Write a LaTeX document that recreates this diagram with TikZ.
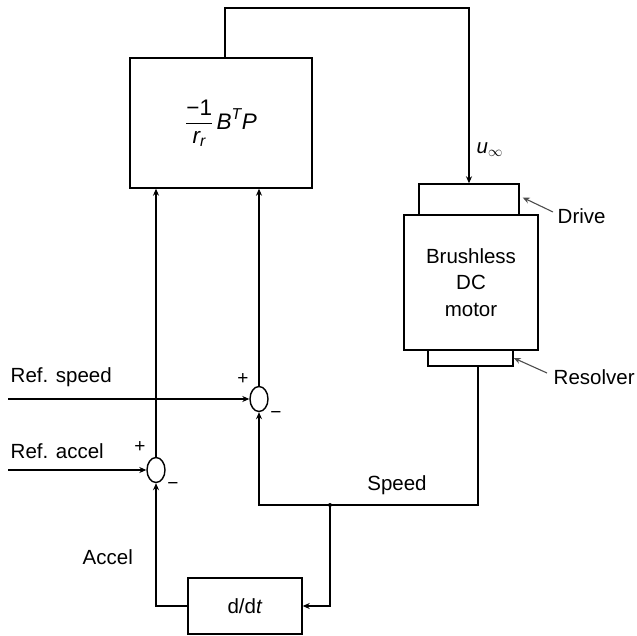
\documentclass[tikz,border=0pt]{standalone}
\usepackage{amsmath}
\usepackage{fontspec}
\setmainfont{Liberation Sans}
\usetikzlibrary{arrows.meta,shapes.geometric}
\begin{document}
\begin{tikzpicture}[x=1pt,y=-1pt,
  line width=1.4pt,
  blk/.style={draw,rectangle,inner sep=0pt,line width=1.4pt},
  sumj/.style={draw,ellipse,minimum width=18pt,minimum height=25pt,inner sep=0pt,line width=1.4pt},
  lbl/.style={font=\fontsize{20.5}{26}\selectfont,inner sep=0pt},
  sgn/.style={font=\fontsize{19}{20}\selectfont,inner sep=0pt},
  arr/.style={-{Stealth[length=7pt,width=6pt]}},
  thinarr/.style={-{Stealth[length=7pt,width=6pt]},line width=1.1pt,gray!60!black}]
\useasboundingbox (0,0) rectangle (637,636);
% blocks
\node[blk,minimum width=182pt,minimum height=130pt] (top) at (221,123)
  {\fontsize{22.5}{26}\selectfont$\dfrac{\text{−1}}{\textit{r}_{\textit{r}}}\,\textit{B}^{\textit{T}}\textit{P}$};
\node[blk,minimum width=100pt,minimum height=31pt] (drive) at (469,199.5) {};
\node[blk,minimum width=134pt,minimum height=135pt,align=center,font=\fontsize{20.5}{26.5}\selectfont] (motor) at (471,282.5) {Brushless\\DC\\motor};
\node[blk,minimum width=85pt,minimum height=16pt] (resolver) at (470.5,358) {};
\node[blk,minimum width=114pt,minimum height=56pt,font=\fontsize{20.5}{24}\selectfont] (ddt) at (245,606) {d/d\textit{t}};
% summing junctions
\node[sumj] (sum1) at (259,399) {};
\node[sumj] (sum2) at (156,470) {};
% coordinates
\coordinate (t1) at (225,8);
\coordinate (t2) at (469,8);
\coordinate (rs) at (8,399);
\coordinate (ra) at (8,470);
\coordinate (sp) at (478,505);
\coordinate (j) at (330,505);
\coordinate (dtail) at (553,212);
\coordinate (rtail) at (547,373);
% labels
\node[lbl,anchor=west] (u) at (476,150) {\textit{u}$_{\infty}$};
\node[lbl,anchor=west] (drivelbl) at (557,216) {Drive};
\node[lbl,anchor=west] (reslbl) at (553,377) {Resolver};
\node[lbl,anchor=west] (rslbl) at (10,377) {Ref. speed};
\node[lbl,anchor=west] (ralbl) at (10,451) {Ref. accel};
\node[lbl,anchor=west] (acclbl) at (82,557) {Accel};
\node[lbl] (spdlbl) at (397,485) {Speed};
\node[sgn] (p1) at (243,379) {+};
\node[sgn] (m1) at (276,415) {−};
\node[sgn] (p2) at (140,447) {+};
\node[sgn] (m2) at (173,486) {−};
% connectors
\draw[arr] (top.north -| t1) -- (t1) -- (t2) -- (drive.north);
\draw[arr] (rs) -- (sum1.west);
\draw[arr] (ra) -- (sum2.west);
\draw[arr] (sum1.north) -- (sum1.north |- top.south);
\draw[arr] (sum2.north) -- (sum2.north |- top.south);
\draw[arr] (resolver.south -| sp) -- (sp) -| (sum1.south);
\draw[arr] (j) |- (ddt.east);
\draw[arr] (ddt.west) -| (sum2.south);
\fill (j) circle (2pt);
\draw[thinarr] (dtail) -- ([xshift=3pt,yshift=2pt]drive.east);
\draw[thinarr] (rtail) -- (resolver.east);
\end{tikzpicture}
\end{document}
